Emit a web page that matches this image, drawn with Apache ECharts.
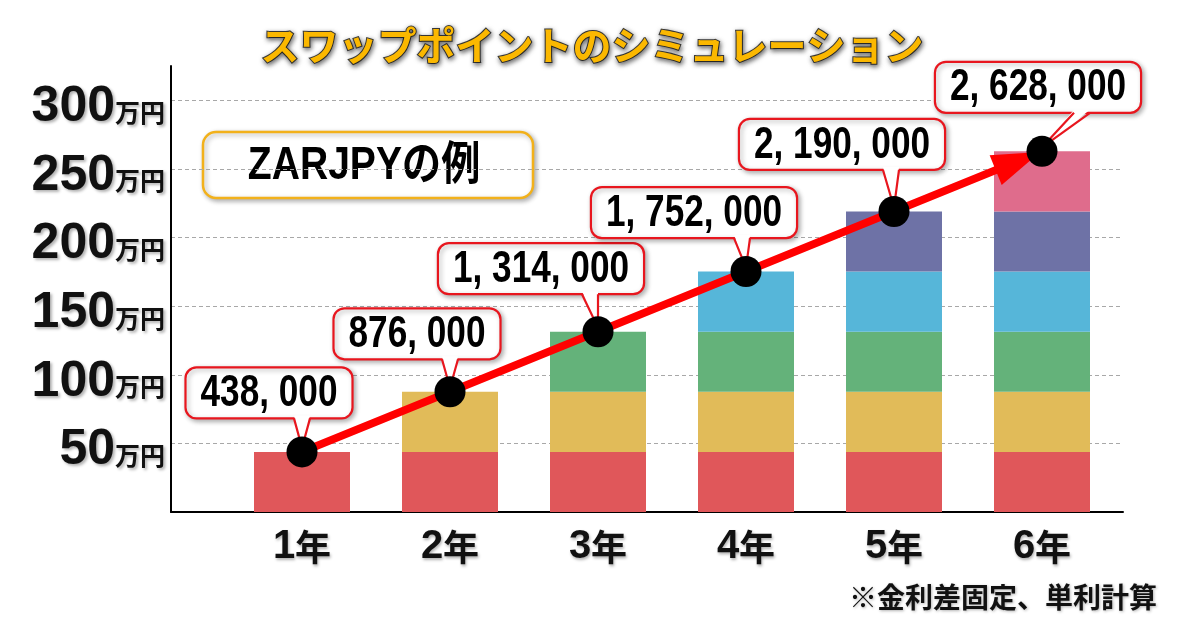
<!DOCTYPE html>
<html>
<head>
<meta charset="utf-8">
<script src="https://cdn.jsdelivr.net/npm/echarts@6/dist/echarts.min.js"></script>
<style>
html,body{margin:0;padding:0;background:#fff;}
#chart{width:1184px;height:625px;}
</style>
</head>
<body>
<div id="chart"></div>
<script>
// ---- data (values in 万円) ----
const years = ['1年', '2年', '3年', '4年', '5年', '6年'];
const layer1 = [43.8, 43.8, 43.8, 43.8, 43.8, 43.8];
const layer2 = ['-', 43.8, 43.8, 43.8, 43.8, 43.8];
const layer3 = ['-', '-', 43.8, 43.8, 43.8, 43.8];
const layer4 = ['-', '-', '-', 43.8, 43.8, 43.8];
const layer5 = ['-', '-', '-', '-', 43.8, 43.8];
const layer6 = ['-', '-', '-', '-', '-', 43.8];
const totals = [43.8, 87.6, 131.4, 175.2, 219.0, 262.8];
const totalYen = [438000, 876000, 1314000, 1752000, 2190000, 2628000];
const yTicks = [50, 100, 150, 200, 250, 300];

// ---- styles ----
const layerColors = ['#e0575a', '#e1bb59', '#64b27a', '#56b6d9', '#6e72a6', '#df6c8c'];
const calloutOffset = [[-33, -59], [-33, -58], [-57, -63], [-52, -59], [-52, -67], [-4, -64]];
const tailShift = [0, 0, -8, -4, -3, 40];
const calloutFont = 'bold 44px "Liberation Sans", Arial, sans-serif';
const calloutScale = 0.8;

const mctx = document.createElement('canvas').getContext('2d');
mctx.font = calloutFont;
function fmt(v) { return v.toLocaleString('en-US').replace(/,/g, ', '); }
const labelTexts = totalYen.map(fmt);

const layers = [layer1, layer2, layer3, layer4, layer5, layer6];
const barSeries = layers.map((d, k) => ({
  type: 'bar', name: 'L' + (k + 1), stack: 'total', xAxisIndex: 1, yAxisIndex: 1,
  data: d, barWidth: 96, silent: true, z: 2,
  itemStyle: { color: layerColors[k] }
}));

const chart = echarts.init(document.getElementById('chart'));
const YMAX = 325;
const RED = '#e8161e';
chart.setOption({
  animation: false,
  backgroundColor: '#fff',
  title: [{
    text: 'スワップポイントのシミュレーション',
    left: 'center', top: 21,
    textStyle: {
      color: '#fbb800', fontSize: 39, fontWeight: 'bold',
      fontFamily: '"Noto Sans CJK JP", sans-serif',
      textBorderColor: '#3b3b3b', textBorderWidth: 2,
      textShadowColor: 'rgba(0,0,0,0.55)', textShadowBlur: 5, textShadowOffsetX: 1, textShadowOffsetY: 2
    }
  }, {
    text: '※金利差固定、単利計算',
    right: 22, top: 578,
    textStyle: {
      color: '#111', fontSize: 28, fontWeight: 'bold',
      fontFamily: '"Noto Sans CJK JP", sans-serif',
      textShadowColor: 'rgba(0,0,0,0.3)', textShadowBlur: 3, textShadowOffsetX: 1, textShadowOffsetY: 1
    }
  }],
  graphic: [{
    type: 'group', z: 10,
    children: [{
      type: 'rect', shape: { x: 203, y: 132, width: 330, height: 66, r: 13 },
      style: { fill: '#fff', stroke: '#f2b11b', lineWidth: 2.5, shadowBlur: 5, shadowColor: 'rgba(0,0,0,0.3)', shadowOffsetX: 2, shadowOffsetY: 2 }
    }, {
      type: 'text', x: 364, y: 166, scaleX: 0.85,
      style: {
        text: 'ZARJPYの例', x: 0, y: 0, align: 'center', verticalAlign: 'middle',
        font: 'bold 46px "Liberation Sans", Arial, "Noto Sans CJK JP", sans-serif',
        fill: '#000'
      }
    }]
  }],
  grid: [
    { left: 171, right: 61, top: 66, bottom: 113, outerBoundsMode: 'none', containLabel: false },
    { left: 228, right: 68, top: 66, bottom: 113, outerBoundsMode: 'none', containLabel: false }
  ],
  xAxis: [{
    gridIndex: 0, type: 'category', data: years,
    axisLine: { show: true, lineStyle: { color: '#000', width: 2 } },
    axisTick: { show: false }, axisLabel: { show: false }, splitLine: { show: false }
  }, {
    gridIndex: 1, type: 'category', data: years,
    axisLine: { show: false }, axisTick: { show: false }, splitLine: { show: false },
    axisLabel: {
      show: true, margin: 15,
      formatter: function (v) { return '{d|' + v.replace('年', '') + '}{k|年}'; },
      rich: {
        d: { fontSize: 40, fontWeight: 'bold', color: '#111', fontFamily: '"Liberation Sans", Arial, sans-serif',
             textShadowColor: 'rgba(0,0,0,0.3)', textShadowBlur: 3, textShadowOffsetX: 1, textShadowOffsetY: 2 },
        k: { fontSize: 36, fontWeight: 'bold', color: '#111', fontFamily: '"Noto Sans CJK JP", sans-serif',
             textShadowColor: 'rgba(0,0,0,0.3)', textShadowBlur: 3, textShadowOffsetX: 1, textShadowOffsetY: 2 }
      }
    }
  }],
  yAxis: [{
    gridIndex: 0, type: 'value', min: 0, max: YMAX, interval: 50,
    axisLine: { show: true, lineStyle: { color: '#000', width: 2 } },
    axisTick: { show: false },
    splitLine: { show: true, showMinLine: false, showMaxLine: false, lineStyle: { color: '#a8a8a8', type: [4, 3], width: 1 } },
    axisLabel: {
      show: true, margin: 6, showMaxLabel: false,
      formatter: function (v) { return yTicks.indexOf(v) >= 0 ? '{n|' + v + '}{u|万円}' : ''; },
      rich: {
        n: { fontSize: 50, fontWeight: 'bold', color: '#111', fontFamily: '"Liberation Sans", Arial, sans-serif', padding: [14, 0, 0, 0],
             textShadowColor: 'rgba(0,0,0,0.3)', textShadowBlur: 3, textShadowOffsetX: 2, textShadowOffsetY: 2 },
        u: { fontSize: 25, fontWeight: 'bold', color: '#111', fontFamily: '"Noto Sans CJK JP", sans-serif', padding: [24, 0, 0, 0],
             textShadowColor: 'rgba(0,0,0,0.3)', textShadowBlur: 3, textShadowOffsetX: 2, textShadowOffsetY: 2 }
      }
    }
  }, {
    gridIndex: 1, type: 'value', min: 0, max: YMAX, show: false, splitLine: { show: false }
  }],
  series: barSeries.concat([{
    // red arrow from the first total to the last total
    type: 'custom', xAxisIndex: 1, yAxisIndex: 1, z: 5, silent: true, clip: false,
    data: [[0, totals[0], years.length - 1, totals[totals.length - 1]]],
    encode: { x: [0, 2], y: [1, 3] },
    renderItem: function (params, api) {
      const a = api.coord([api.value(0), api.value(1)]);
      const b = api.coord([api.value(2), api.value(3)]);
      const dx = b[0] - a[0], dy = b[1] - a[1];
      const len = Math.sqrt(dx * dx + dy * dy);
      const ux = dx / len, uy = dy / len, nx = -uy, ny = ux;
      const headLen = 48, headHalf = 16;
      const tip = [b[0] - ux * 2, b[1] - uy * 2];
      const base = [tip[0] - ux * headLen, tip[1] - uy * headLen];
      return {
        type: 'group', children: [
          { type: 'line', shape: { x1: a[0], y1: a[1], x2: base[0] + ux * 4, y2: base[1] + uy * 4 },
            style: { stroke: '#ff0000', lineWidth: 8, lineCap: 'round' } },
          { type: 'polygon', shape: { points: [tip, [base[0] + nx * headHalf, base[1] + ny * headHalf], [base[0] - nx * headHalf, base[1] - ny * headHalf]] },
            style: { fill: '#ff0000' } }
        ]
      };
    }
  }, {
    // callout labels
    type: 'custom', xAxisIndex: 1, yAxisIndex: 1, z: 8, silent: true, clip: false,
    data: totals.map((v, i) => [i, v]),
    renderItem: function (params, api) {
      const idx = params.dataIndex;
      const p = api.coord([api.value(0), api.value(1)]);
      const txt = labelTexts[idx];
      const w = mctx.measureText(txt).width * calloutScale + 30, h = 51;
      const cx = p[0] + calloutOffset[idx][0], cy = p[1] + calloutOffset[idx][1];
      const x0 = cx - w / 2, y0 = cy - h / 2, yb = y0 + h;
      const bx = p[0] + tailShift[idx];
      return {
        type: 'group', children: [
          { type: 'rect', shape: { x: x0, y: y0, width: w, height: h, r: 11 },
            style: { fill: '#fff', stroke: RED, lineWidth: 2.2, shadowBlur: 5, shadowColor: 'rgba(0,0,0,0.3)', shadowOffsetX: 2, shadowOffsetY: 2 } },
          { type: 'polygon', shape: { points: [[bx - 8, yb - 3], [bx + 8, yb - 3], [p[0], p[1] - 4]] },
            style: { fill: '#fff' } },
          { type: 'polyline', shape: { points: [[bx - 8, yb], [p[0], p[1] - 4], [bx + 8, yb]] },
            style: { stroke: RED, lineWidth: 2.2, fill: null } },
          { type: 'text', x: cx, y: cy + 1, scaleX: calloutScale,
            style: { text: txt, x: 0, y: 0, align: 'center', verticalAlign: 'middle', font: calloutFont, fill: '#000' } }
        ]
      };
    }
  }, {
    type: 'scatter', xAxisIndex: 1, yAxisIndex: 1, z: 9, silent: true,
    data: totals, symbol: 'circle', symbolSize: 31,
    itemStyle: { color: '#000', opacity: 1 }
  }])
});
</script>
</body>
</html>
